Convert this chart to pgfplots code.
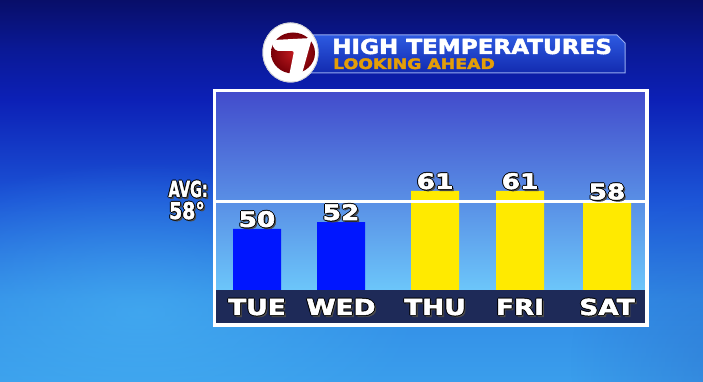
\documentclass[border=0pt]{standalone}
\usepackage{fontspec}
\usepackage{graphicx}
\usepackage{pgfplots}
\pgfplotsset{compat=1.18}
\usetikzlibrary{fadings}
\newfontfamily\dv{DejaVu Sans}[BoldFeatures={FakeBold=2.2}]

\definecolor{bgtop}{RGB}{8,14,105}
\definecolor{bg0}{RGB}{10,25,150}
\definecolor{bg1}{RGB}{12,32,182}
\definecolor{bg2}{RGB}{28,85,215}
\definecolor{bg3}{RGB}{50,140,230}
\definecolor{bgbot}{RGB}{58,158,236}
\definecolor{glowc}{RGB}{75,185,245}
\definecolor{darkc}{RGB}{35,85,185}
\definecolor{pa1}{RGB}{66,76,204}
\definecolor{pa2}{RGB}{80,128,232}
\definecolor{pa3}{RGB}{108,198,250}
\definecolor{band}{RGB}{30,42,88}
\definecolor{barblue}{RGB}{0,22,255}
\definecolor{baryel}{RGB}{255,234,0}
\definecolor{bantop}{RGB}{45,90,225}
\definecolor{banbot}{RGB}{18,42,175}
\definecolor{banedge}{RGB}{150,172,240}
\definecolor{orng}{RGB}{228,158,8}
\definecolor{red1}{RGB}{190,25,30}
\definecolor{red2}{RGB}{120,0,8}

\pgfdeclareverticalshading{bgsh}{100bp}{color(0bp)=(bgbot); color(25bp)=(bgbot); color(35.7bp)=(bg3); color(48.8bp)=(bg2); color(62bp)=(bg1); color(68.5bp)=(bg0); color(75bp)=(bgtop); color(100bp)=(bgtop)}
\tikzfading[name=glowfade, inner color=transparent!0, outer color=transparent!100]

\newcommand\shd[1]{\leavevmode
 \rlap{\kern1.8pt\smash{\raisebox{-1.8pt}{\color{black!70}#1}}}%
 \rlap{\kern-1pt\smash{\color{black}#1}}%
 \rlap{\kern1pt\smash{\color{black}#1}}%
 \rlap{\smash{\raisebox{1pt}{\color{black}#1}}}%
 \rlap{\smash{\raisebox{-1pt}{\color{black}#1}}}%
 #1}
\newcommand\wday[1]{\shd{\scalebox{1.2}[1]{#1}}}

\begin{document}
\begin{tikzpicture}
\useasboundingbox (0,0) rectangle (703pt,382pt);
% background
\shade[shading=bgsh] (0,0) rectangle (703pt,382pt);
\fill[glowc, path fading=glowfade, fill opacity=0.55] (140pt,70pt) ellipse (280pt and 150pt);
\fill[darkc, path fading=glowfade, fill opacity=0.3] (720pt,20pt) ellipse (150pt and 160pt);

% banner
\shade[top color=bantop, bottom color=banbot, draw=banedge, line width=1pt]
  (300pt,347pt) -- (617pt,347pt) -- (625pt,339pt) -- (625pt,309pt) -- (300pt,309pt) -- cycle;
\node[anchor=base west, inner sep=0pt, text=white, font={\dv\bfseries\fontsize{20.6pt}{22pt}\selectfont}]
  at (332pt,328pt) {\scalebox{1.12}[1]{HIGH TEMPERATURES}};
\node[anchor=base west, inner sep=0pt, text=orng, font={\dv\bfseries\fontsize{14.4pt}{15pt}\selectfont}]
  at (333pt,313pt) {\scalebox{1.2}[1]{LOOKING AHEAD}};

% logo
\fill[white] (290.5pt,329.5pt) ellipse (28pt and 30pt);
\draw[gray!35, line width=0.8pt] (290.5pt,329.5pt) ellipse (27.6pt and 29.6pt);
\shade[inner color=red1, outer color=red2] (293pt,329pt) ellipse (22pt and 20.5pt);
\fill[white, rounded corners=2pt] (274pt,342pt) -- (312pt,344pt) -- (300pt,301pt) -- (288pt,301pt) -- (294pt,331pt) -- (276pt,331pt) -- (272pt,337pt) -- cycle;

% AVG label
\node[anchor=base east, inner sep=0pt, text=white, font={\dv\bfseries\fontsize{22pt}{23pt}\selectfont}]
  at (208pt,185pt) {\shd{\scalebox{0.66}[1]{AVG:}}};
\node[anchor=base east, inner sep=0pt, text=white, font={\dv\bfseries\fontsize{23pt}{24pt}\selectfont}]
  at (205pt,163pt) {\shd{\scalebox{0.82}[1]{58°}}};

% label band
\fill[band] (216pt,59pt) rectangle (645pt,92pt);

\begin{axis}[
  at={(216pt,92pt)}, anchor=south west,
  scale only axis, width=429pt, height=198pt,
  xmin=216, xmax=645, ymin=32.3, ymax=89.7,
  axis background/.style={shade, top color=pa1, middle color=pa2, bottom color=pa3},
  axis line style={draw=none},
  major tick length=0pt,
  ytick=\empty,
  xtick={257,341,435,520,607},
  xticklabels={\wday{TUE},\wday{WED},\wday{THU},\wday{FRI},\wday{SAT}},
  xticklabel style={anchor=base, yshift=-25pt, text=white, inner sep=0pt,
    font={\dv\bfseries\fontsize{22pt}{23pt}\selectfont}},
  point meta=explicit symbolic,
  every node near coord/.append style={text=white, anchor=south, inner sep=1.5pt,
    font={\dv\bfseries\fontsize{21.5pt}{22pt}\selectfont}},
]
\addplot[ybar, bar width=48, bar shift=0pt, fill=barblue, draw=none,
  nodes near coords={\shd{\scalebox{1.22}[1]{\pgfplotspointmeta}}}]
  coordinates {(257,50) [50] (341,52) [52]};
\addplot[ybar, bar width=48, bar shift=0pt, fill=baryel, draw=none,
  nodes near coords={\shd{\scalebox{1.22}[1]{\pgfplotspointmeta}}}]
  coordinates {(435,61) [61] (520,61) [61] (607,58) [58]};
\addplot[white, line width=3pt, sharp plot, mark=none, point meta=none] coordinates {(216,58) (645,58)};
\end{axis}

% frame
\draw[white, line width=3.5pt] (214.5pt,57pt) rectangle (647pt,291.5pt);
\end{tikzpicture}
\end{document}
